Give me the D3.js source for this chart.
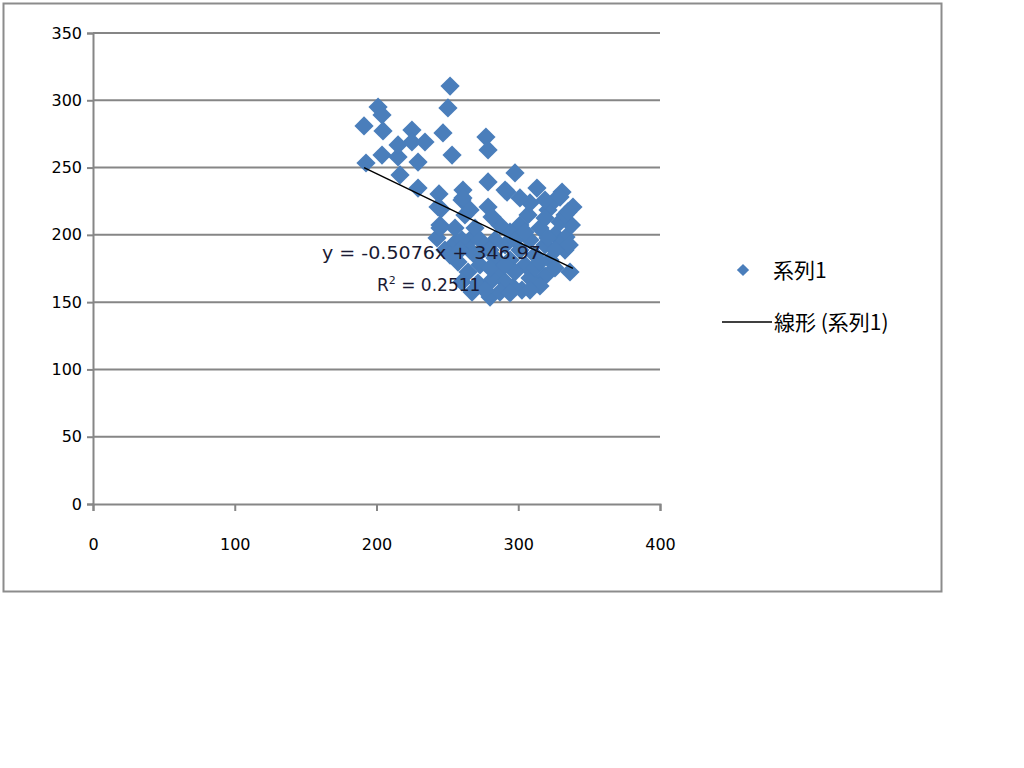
<!DOCTYPE html>
<html><head><meta charset="utf-8">
<script src="https://cdn.jsdelivr.net/npm/d3@7"></script>
<style>body{margin:0;background:#fff}svg{display:block}</style>
</head><body>
<script>
const xTicks = [0, 100, 200, 300, 400];
const yTicks = [0, 50, 100, 150, 200, 250, 300, 350];
const seriesName = "系列1";
const trendName = "線形 (系列1)";
const trendSlope = -0.5076;
const trendIntercept = 346.97;
const trendEq = "y = -0.5076x + 346.97";
const trendR2 = "0.2511";
const xValues = [
 191.2,192.6,201.1,203.9,204.6,203.9,215.2,215.2,225.0,225.0,234.2,229.3,216.6,246.9,250.4,251.9,253.3,277.2,278.7,
 229.3,244.1,261.0,278.7,297.7,292.1,313.2,330.9,338.6,244.8,260.3,278.7,245.5,
 336.5,302.6,280.1,296.3,
 242.7,248.3,255.4,257.5,266.0,269.5,264.6,273.0,276.5,283.6,287.1,290.7,294.2,301.2,304.8,308.3,311.8,315.3,318.9,
 322.4,325.9,329.5,333.0,321.0,325.9,306.9,301.2,294.2,287.1,283.6,269.5,262.4,255.4,271.6,281.5,290.7,308.3,318.9,
 325.9,297.7,260.3,267.4,287.1,315.3,321.0,333.7,337.5,333.0,318.9,308.3,301.2,318.9,243.4,266.0,261.0,281.5,290.7,
 329.5,329.5,294.2,276.5,251.9,260.3,280.1,311.8,336.0,335.0,244.8,
 266.0,280.1,297.7,304.8,315.3,290.7,273.0,258.9,308.3,325.9
];
const yValues = [
 280.9,253.4,295.0,289.1,277.2,259.3,257.9,266.8,277.9,269.0,269.0,254.1,244.5,275.7,294.3,310.6,259.3,272.7,263.1,
 234.8,230.4,233.3,239.3,246.0,231.8,234.8,231.8,220.7,207.3,225.9,220.7,219.2,
 172.4,159.0,153.8,161.3,
 197.7,188.7,194.0,179.8,196.2,185.0,172.4,177.6,190.2,182.8,173.9,192.5,181.3,188.7,177.6,196.2,185.0,205.1,192.5,
 181.3,199.9,209.6,188.7,218.5,225.9,214.8,207.3,202.1,207.3,196.2,205.1,214.8,205.1,164.2,166.5,165.0,167.9,169.4,
 175.4,172.4,165.0,157.5,157.5,162.0,197.7,198.4,207.3,214.8,212.5,223.7,227.4,225.9,220.7,218.5,227.4,213.3,233.3,
 228.1,192.5,156.8,159.0,185.0,196.2,175.4,175.4,192.5,217.0,205.1,
 188.7,188.7,196.2,202.1,179.8,177.6,196.2,188.7,159.0,188.7
];
const points = xValues.map((x, i) => ({x, y: yValues[i]}));

const W = 1024, H = 768;
const svg = d3.select("body").append("svg").attr("width", W).attr("height", H);
svg.append("rect").attr("x", 3.5).attr("y", 3.5).attr("width", 938).attr("height", 588)
  .attr("fill", "#fff").attr("stroke", "#8c8c8c").attr("stroke-width", 2);

const x = d3.scaleLinear().domain([0, 400]).range([93, 660]);
const y = d3.scaleLinear().domain([0, 350]).range([504, 33]);
const font = "'DejaVu Sans', Verdana, sans-serif";

// gridlines
svg.append("g").selectAll("line").data(yTicks.filter(d => d > 0)).join("line")
  .attr("x1", x(0)).attr("x2", x(400)).attr("y1", d => y(d)).attr("y2", d => y(d))
  .attr("stroke", "#868686").attr("stroke-width", 2);

const yAxis = svg.append("g").attr("transform", `translate(${x(0)},0)`)
  .call(d3.axisLeft(y).tickValues(yTicks).tickSize(6).tickPadding(5));
const xAxis = svg.append("g").attr("transform", `translate(0,${y(0)})`)
  .call(d3.axisBottom(x).tickValues(xTicks).tickSize(7).tickPadding(28));
[yAxis, xAxis].forEach(g => {
  g.select(".domain").attr("stroke", "#868686").attr("stroke-width", 2);
  g.selectAll(".tick line").attr("stroke", "#868686").attr("stroke-width", 2);
  g.selectAll(".tick text").attr("fill", "#000").style("font-family", font).style("font-size", "16px");
});

const color = "#4a7ebb";
const sym = d3.symbol().type(d3.symbolSquare).size(185);
svg.append("g").selectAll("path").data(points).join("path")
  .attr("d", sym).attr("fill", color)
  .attr("transform", d => `translate(${x(d.x)},${y(d.y)}) rotate(45)`);

// trendline
const xmin = d3.min(xValues), xmax = d3.max(xValues);
const tl = [xmin, xmax].map(v => ({x: v, y: trendSlope * v + trendIntercept}));
svg.append("path").datum(tl)
  .attr("d", d3.line().x(d => x(d.x)).y(d => y(d.y)))
  .attr("stroke", "#000").attr("stroke-width", 1.5).attr("fill", "none");

// trend label
const lab = svg.append("g").style("font-family", font).style("font-size", "17px").attr("fill", "#1a1a33");
lab.append("text").attr("x", 322).attr("y", 259).attr("textLength", 219).attr("lengthAdjust", "spacingAndGlyphs").text(trendEq);
const r2 = lab.append("text").attr("x", 377).attr("y", 291);
r2.append("tspan").text("R");
r2.append("tspan").attr("dy", -7).style("font-size", "11px").text("2");
r2.append("tspan").attr("dy", 7).text(" = " + trendR2);

// legend
const lg = svg.append("g").style("font-family", "'Noto Sans CJK JP', sans-serif").style("font-size", "21px");
lg.append("path").attr("d", d3.symbol().type(d3.symbolSquare).size(75)).attr("fill", color)
  .attr("transform", "translate(743,270) rotate(45)");
lg.append("text").attr("x", 773).attr("y", 278).text(seriesName);
lg.append("line").attr("x1", 722).attr("x2", 772).attr("y1", 322).attr("y2", 322).attr("stroke", "#000").attr("stroke-width", 1.5);
lg.append("text").attr("x", 774).attr("y", 330).text(trendName);
</script>
</body></html>
